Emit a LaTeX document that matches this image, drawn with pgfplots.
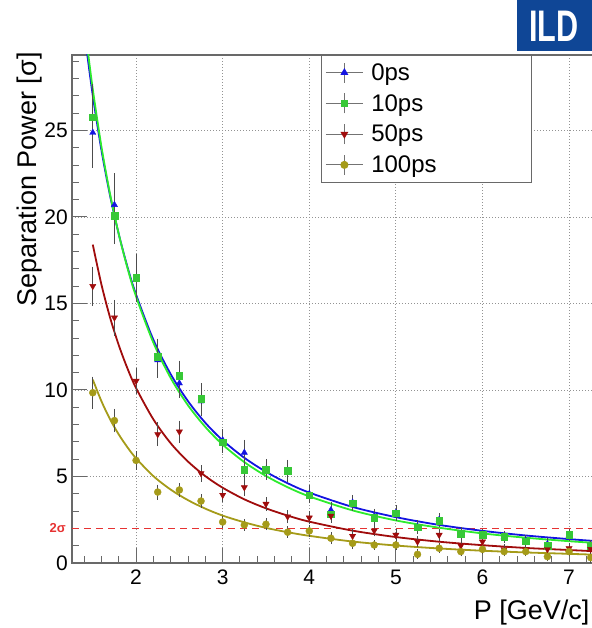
\documentclass[border=0pt]{standalone}
\usepackage{fontspec}
\setmainfont{Liberation Sans}
\usepackage{pgfplots}
\usepackage{pgfplotstable}
\pgfplotsset{compat=1.18}

\definecolor{cblue}{RGB}{20,20,225}
\definecolor{cgreen}{RGB}{55,200,55}
\definecolor{cgreenl}{RGB}{45,235,45}
\definecolor{cred}{RGB}{160,12,12}
\definecolor{colive}{RGB}{165,155,25}
\definecolor{ildblue}{RGB}{15,70,150}
\definecolor{framegray}{RGB}{105,105,105}
\definecolor{sigred}{RGB}{230,50,50}

\pgfplotstableread{
x y ey
1.5 24.87 1.9
1.75 20.7 1.7
2.0 16.4 1.2
2.25 11.73 0.9
2.5 10.39 0.7
2.75 9.35 0.75
3.0 7.1 0.5
3.25 6.38 0.6
3.5 5.4 0.45
3.75 5.3 0.5
4.0 4.0 0.35
4.25 3.06 0.35
4.5 3.5 0.3
4.75 2.7 0.3
5.0 2.9 0.3
5.25 2.1 0.25
5.5 2.5 0.25
5.75 1.6 0.25
6.0 1.65 0.2
6.25 1.5 0.2
6.5 1.3 0.2
6.75 1.1 0.2
7.0 1.6 0.2
7.25 1.0 0.2
}\tzero

\pgfplotstableread{
x y ey
1.5 25.76 1.8
1.75 20.06 1.5
2.0 16.5 1.25
2.25 11.93 0.9
2.5 10.81 0.75
2.75 9.5 0.75
3.0 6.98 0.5
3.25 5.38 0.55
3.5 5.38 0.45
3.75 5.32 0.5
4.0 3.93 0.35
4.25 2.81 0.35
4.5 3.45 0.3
4.75 2.62 0.3
5.0 2.87 0.3
5.25 2.06 0.25
5.5 2.45 0.25
5.75 1.71 0.25
6.0 1.62 0.2
6.25 1.52 0.2
6.5 1.27 0.2
6.75 1.0 0.2
7.0 1.62 0.2
7.25 1.0 0.2
}\tten

\pgfplotstableread{
x y ey
1.5 16.0 1.0
1.75 14.18 0.9
2.0 10.52 0.6
2.25 7.44 0.55
2.5 7.59 0.5
2.75 5.18 0.35
3.0 3.93 0.3
3.25 4.37 0.35
3.5 3.41 0.25
3.75 2.68 0.25
4.0 2.62 0.25
4.25 2.72 0.25
4.5 1.56 0.25
4.75 1.87 0.2
5.0 1.62 0.2
5.25 1.23 0.2
5.5 1.62 0.2
5.75 1.0 0.2
6.0 1.23 0.2
6.25 0.79 0.15
6.5 0.75 0.15
6.75 0.79 0.15
7.0 0.85 0.15
7.25 0.8 0.15
}\tfifty

\pgfplotstableread{
x y ey
1.5 9.84 0.8
1.75 8.23 0.55
2.0 5.93 0.4
2.25 4.1 0.3
2.5 4.22 0.25
2.75 3.58 0.25
3.0 2.37 0.2
3.25 2.2 0.2
3.5 2.24 0.2
3.75 1.78 0.2
4.0 1.85 0.2
4.25 1.43 0.2
4.5 1.14 0.2
4.75 1.04 0.15
5.0 1.04 0.15
5.25 0.5 0.15
5.5 0.85 0.15
5.75 0.66 0.15
6.0 0.79 0.15
6.25 0.66 0.15
6.5 0.66 0.15
6.75 0.37 0.15
7.0 0.66 0.15
7.25 0.31 0.15
}\thundred

\begin{document}
\begin{tikzpicture}
\begin{axis}[
  name=ax,
  scale only axis,
  width=522pt, height=508pt,
  xmin=1.26, xmax=7.288, ymin=0, ymax=29.36,
  enlargelimits=false,
  xtick={2,3,4,5,6,7},
  ytick={0,5,10,15,20,25},
  minor xtick={1.4,1.6,1.8,2.2,2.4,2.6,2.8,3.2,3.4,3.6,3.8,4.2,4.4,4.6,4.8,5.2,5.4,5.6,5.8,6.2,6.4,6.6,6.8,7.2},
  minor ytick={1,2,3,4,6,7,8,9,11,12,13,14,16,17,18,19,21,22,23,24,26,27,28,29},
  tick pos=left,
  tick align=inside,
  major tick length=15pt,
  minor tick length=7pt,
  axis line style={framegray, line width=1.2pt},
  every tick/.style={framegray, line width=1pt},
  grid=major,
  major grid style={gray!85, line width=0.8pt, dash pattern=on 1pt off 2pt},
  /pgf/number format/assume math mode=true,
  tick label style={font=\fontsize{21}{21}\selectfont},
  yticklabel style={inner xsep=4pt},
  xticklabel style={inner ysep=7pt},
  extra y ticks={2},
  extra y tick labels={\textbf{2σ}},
  extra y tick style={
    major tick length=0pt,
    grid=major,
    major grid style={sigred, line width=0.9pt, dash pattern=on 7pt off 5pt},
    yticklabel style={text=sigred, font=\fontsize{13}{13}\selectfont\bfseries, inner xsep=6pt}},
  xlabel={P [GeV/c]},
  ylabel={Separation Power [σ]},
  xlabel style={at={(rel axis cs:0.998,-0.097)}, anchor=east, font=\fontsize{27}{27}\selectfont},
  ylabel style={at={(rel axis cs:-0.082,1.012)}, anchor=east, font=\fontsize{27}{27}\selectfont},
  legend cell align=left,
  legend style={at={(rel axis cs:0.477,1)}, anchor=north west,
    draw=framegray, line width=1pt, fill=white,
    font=\fontsize{24}{24}\selectfont,
    inner xsep=4pt, inner ysep=6pt, row sep=8.5pt,
    nodes={text width=148pt, inner xsep=8pt}},
  legend image code/.code={
    \draw[black!55, line width=0.8pt, solid] (0pt,0pt) -- (37pt,0pt);
    \draw[black!55, line width=0.8pt, solid] (18.5pt,-10pt) -- (18.5pt,10pt);
    \draw[mark repeat=2,mark phase=2,#1] plot coordinates {(0pt,0pt) (18.5pt,0pt) (37pt,0pt)};
  },
  error bars/error bar style={black!70, line width=0.6pt},
  error bars/error mark options={black!70, line width=0.6pt, mark size=2.3pt},
]
% fit curves
\addplot[cblue, line width=1.8pt, smooth, forget plot] coordinates {
(1.43,29.63) (1.5,27.02) (1.6,23.86) (1.7,21.22) (1.8,19.01) (1.9,17.12) (2.0,15.51)
(2.2,12.90) (2.4,10.91) (2.6,9.35) (2.8,8.10) (3.0,7.09) (3.25,6.08) (3.5,5.27)
(3.75,4.61) (4.0,4.07) (4.5,3.24) (5.0,2.65) (5.5,2.20) (6.0,1.86) (6.5,1.59)
(7.0,1.38) (7.3,1.27)};
\addplot[cgreenl, line width=1.8pt, smooth, forget plot] coordinates {
(1.44,29.71) (1.5,27.38) (1.6,24.06) (1.7,21.31) (1.8,19.01) (1.9,17.06) (2.0,15.40)
(2.2,12.73) (2.4,10.69) (2.6,9.11) (2.8,7.86) (3.0,6.84) (3.25,5.83) (3.5,5.03)
(3.75,4.38) (4.0,3.85) (4.5,3.04) (5.0,2.46) (5.5,2.04) (6.0,1.71) (6.5,1.46)
(7.0,1.26) (7.3,1.16)};
\addplot[cred, line width=1.8pt, smooth, forget plot] coordinates {
(1.5,18.4) (1.6,16.09) (1.7,14.18) (1.8,12.59) (1.9,11.25) (2.0,10.11)
(2.2,8.30) (2.4,6.92) (2.6,5.86) (2.8,5.02) (3.0,4.35) (3.25,3.68) (3.5,3.16)
(3.75,2.74) (4.0,2.39) (4.5,1.87) (5.0,1.50) (5.5,1.23) (6.0,1.03) (6.5,0.87)
(7.0,0.75) (7.3,0.68)};
\addplot[colive, line width=1.8pt, smooth, forget plot] coordinates {
(1.5,10.6) (1.6,9.35) (1.7,8.30) (1.8,7.43) (1.9,6.69) (2.0,6.05)
(2.2,5.02) (2.4,4.24) (2.6,3.63) (2.8,3.14) (3.0,2.74) (3.25,2.35) (3.5,2.03)
(3.75,1.78) (4.0,1.57) (4.5,1.24) (5.0,1.01) (5.5,0.84) (6.0,0.71) (6.5,0.61)
(7.0,0.53) (7.3,0.48)};
% data points
\addplot[only marks, mark=triangle*, mark size=3.6pt, color=cblue,
  error bars/.cd, y dir=both, y explicit]
  table[x=x, y=y, y error=ey] {\tzero};
\addlegendentry{0ps}
\addplot[only marks, mark=square*, mark size=3.3pt, color=cgreen,
  error bars/.cd, y dir=both, y explicit]
  table[x=x, y=y, y error=ey] {\tten};
\addlegendentry{10ps}
\addplot[only marks, mark=triangle*, mark options={rotate=180}, mark size=3.6pt, color=cred,
  error bars/.cd, y dir=both, y explicit]
  table[x=x, y=y, y error=ey] {\tfifty};
\addlegendentry{50ps}
\addplot[only marks, mark=*, mark size=3.5pt, color=colive,
  error bars/.cd, y dir=both, y explicit]
  table[x=x, y=y, y error=ey] {\thundred};
\addlegendentry{100ps}
\end{axis}
% ILD logo
\fill[ildblue] ([xshift=445pt,yshift=4pt]ax.north west) rectangle ([yshift=55pt]ax.north east);
\node[text=white, font=\fontsize{34}{34}\selectfont\bfseries, xscale=0.9, yscale=1.3]
  at ([xshift=-40pt,yshift=29pt]ax.north east) {ILD};
\pgfresetboundingbox
\path[use as bounding box] ([xshift=-72pt,yshift=-65pt]ax.south west) rectangle ([xshift=-2pt,yshift=55pt]ax.north east);
\end{tikzpicture}
\end{document}
